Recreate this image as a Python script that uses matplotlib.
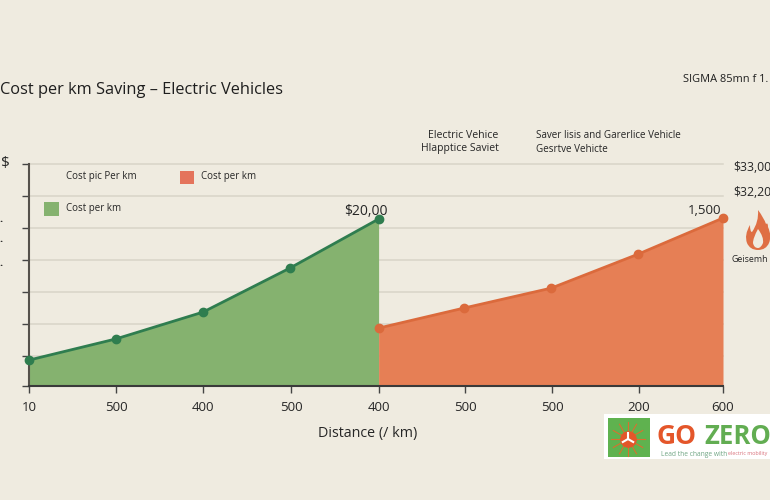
import matplotlib
matplotlib.use("Agg")
import matplotlib.pyplot as plt
from matplotlib.patches import PathPatch, Rectangle
from matplotlib.path import Path
import numpy as np

W, H = 770, 500
BG = "#EFEBE0"
GREEN_FILL = "#85B26F"
GREEN_LINE = "#2F7D4F"
ORANGE_FILL = "#E67F55"
ORANGE_LINE = "#DB6A3C"
DARK = "#262626"

x_labels = ["10", "500", "400", "500", "400", "500", "500", "200", "600"]
tick_pos = [0, 1.003, 2.006, 3.02, 4.03, 5.03, 6.03, 7.03, 8]
ev_pos = [0, 1.0, 2.006, 3.01, 4.03]
ev_cost = [0.81, 1.47, 2.31, 3.69, 5.22]
gas_pos = [4.03, 5.02, 6.02, 7.02, 8]
gas_cost = [1.81, 2.44, 3.06, 4.12, 5.25]
grid_levels = [0.94, 1.94, 2.94, 3.94, 4.94, 5.94, 6.94]

plt.rcParams["font.family"] = ["Open Sans", "DejaVu Sans"]

fig = plt.figure(figsize=(W / 100, H / 100), dpi=100, facecolor=BG)


def px_text(x, y, s, **kw):
    # pixel coords from the top left of the image
    kw.setdefault("color", DARK)
    kw.setdefault("va", "center")
    return fig.text(x / W, 1 - y / H, s, **kw)


def px_shape(points, codes, color):
    pts = [(x / W, 1 - y / H) for x, y in points]
    fig.add_artist(PathPatch(Path(pts, codes), transform=fig.transFigure, color=color, lw=0))


ax = fig.add_axes([29 / W, 1 - 386 / H, (723 - 29) / W, (386 - 164) / H], facecolor="none")
ax.set_xlim(0, 8)
ax.set_ylim(0, 6.94)

for lev in grid_levels:
    ax.axhline(lev, color="#D8D4C8", lw=1.1, zorder=1, clip_on=False)

ax.fill_between(ev_pos, ev_cost, 0, color=GREEN_FILL, lw=0, zorder=2)
ax.fill_between(gas_pos, gas_cost, 0, color=ORANGE_FILL, lw=0, zorder=2)
ax.plot(ev_pos, ev_cost, color=GREEN_LINE, lw=2, marker="o", ms=6, zorder=4, clip_on=False)
ax.plot(gas_pos, gas_cost, color=ORANGE_LINE, lw=2, marker="o", ms=6, zorder=4, clip_on=False)

ax.set_xticks(tick_pos)
ax.set_xticklabels(x_labels, fontsize=9.5, color=DARK)
ax.set_yticks([0] + grid_levels)
ax.set_yticklabels([])
ax.tick_params(axis="x", length=5, width=1, color="#444444", pad=5.5)
ax.tick_params(axis="y", length=5, width=1, color="#444444")
for side in ["top", "right"]:
    ax.spines[side].set_visible(False)
ax.spines["left"].set_color("#55514B")
ax.spines["left"].set_linewidth(1.5)
ax.spines["bottom"].set_color("#3A3A3A")
ax.spines["bottom"].set_linewidth(1.5)

ax.annotate("$20,00", (ev_pos[-1], ev_cost[-1]), xytext=(-9, 3), textcoords="offset points",
            ha="center", fontsize=10, color=DARK)
ax.annotate("1,500", (gas_pos[-1], gas_cost[-1]), xytext=(-13, 3), textcoords="offset points",
            ha="center", fontsize=9.5, color=DARK)

px_text(0, 90, "Cost per km Saving \u2013 Electric Vehicles", fontsize=11.8, color="#1E1E1E")
px_text(683, 79, "SIGMA 85mn f 1.", fontsize=7.9, ha="left", color="#1E1E1E", fontweight="medium")
px_text(318, 434, "Distance (/ km)", fontsize=10.3, ha="left")
px_text(1, 163, "$", fontsize=11, ha="left")
for y in [220, 239, 263]:
    px_text(-1, y, ".", fontsize=8, ha="left", fontweight="bold")

# legend-ish labels
px_text(66, 177, "Cost pic Per km", fontsize=7, ha="left")
px_text(201, 177, "Cost per km", fontsize=7, ha="left")
px_text(66, 209, "Cost per km", fontsize=7, ha="left")
fig.add_artist(Rectangle((180 / W, 1 - 184 / H), 14 / W, 13 / H, transform=fig.transFigure,
                         color="#E4745C", lw=0))
fig.add_artist(Rectangle((44 / W, 1 - 216 / H), 15 / W, 14 / H, transform=fig.transFigure,
                         color="#85B26F", lw=0))

px_text(428, 135, "Electric Vehice", fontsize=7.6, ha="left")
px_text(421, 149, "Hlapptice Saviet", fontsize=7.5, ha="left")
px_text(536, 135, "Saver lisis and Garerlice Vehicle", fontsize=7.1, ha="left")
px_text(536, 149, "Gesrtve Vehicte", fontsize=7.1, ha="left")

px_text(733, 167, "$33,00", fontsize=8.8, ha="left")
px_text(733, 192, "$32,20", fontsize=8.8, ha="left")
px_text(732, 260, "Geisemh", fontsize=6.4, ha="left")

# flame icon, in pixel coords
M, L, C, Z = Path.MOVETO, Path.LINETO, Path.CURVE3, Path.CLOSEPOLY
px_shape([(758, 210), (764, 218), (766, 224), (768, 222), (768, 227), (772, 236), (769, 243),
          (766, 250), (758, 250), (750, 250), (747, 243), (744, 235), (750, 225),
          (750, 232), (752, 232), (759, 222), (758, 210), (758, 210)],
         [M, C, C, C, C, C, C, C, C, C, C, C, C, C, C, C, C, Z], "#DF6F44")
px_shape([(758, 229), (764, 237), (763, 243), (761, 248), (758, 248), (754, 248), (753, 243),
          (753, 238), (758, 229), (758, 229)],
         [M, C, C, C, C, C, C, C, C, Z], BG)

# GO ZERO logo box
fig.add_artist(Rectangle((604 / W, 1 - 459 / H), 166 / W, 45 / H, transform=fig.transFigure,
                         color="white", lw=0))
fig.add_artist(Rectangle((608 / W, 1 - 457 / H), 42 / W, 39 / H, transform=fig.transFigure,
                         color="#5FB24F", lw=0))
for ang in np.arange(0, 360, 30):
    a = np.radians(ang)
    fig.add_artist(plt.Line2D([(628 + 7 * np.cos(a)) / W, (628 + 17 * np.cos(a)) / W],
                              [1 - (439 + 7 * np.sin(a)) / H, 1 - (439 + 17 * np.sin(a)) / H],
                              transform=fig.transFigure, color="#D9702F", lw=0.8))
fig.add_artist(plt.Line2D([628 / W], [1 - 439 / H], transform=fig.transFigure, marker="o", ms=11,
                          color="#E4562A", lw=0))
for ang in [90, 210, 330]:
    a = np.radians(ang)
    fig.add_artist(plt.Line2D([628 / W, (628 + 6 * np.cos(a)) / W],
                              [1 - 439 / H, 1 - (439 - 6 * np.sin(a)) / H],
                              transform=fig.transFigure, color="white", lw=1.5))
px_text(656, 437, "GO", fontsize=19, ha="left", color="#E4562A", fontweight="bold")
px_text(704, 437, "ZERO", fontsize=18.5, ha="left", color="#62AD52", fontweight="bold")
px_text(661, 454, "Lead the change with", fontsize=4.8, ha="left", color="#6FA583")
px_text(728, 454, "electric mobility", fontsize=3.9, ha="left", color="#D9707A")

fig.savefig("out.png", dpi=100, facecolor=BG)
